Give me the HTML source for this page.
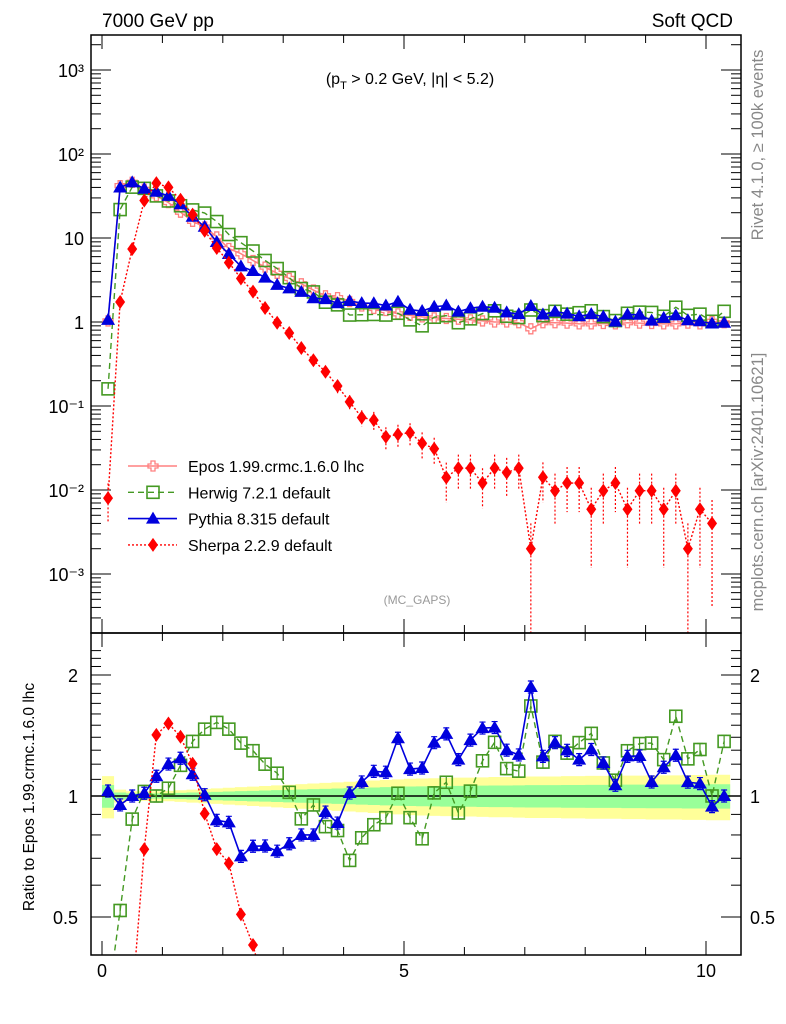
<!DOCTYPE html>
<html><head><meta charset="utf-8"><style>
html,body{margin:0;background:#fff;overflow:hidden;width:786px;height:1024px;}
svg{display:block;font-family:"Liberation Sans",sans-serif;overflow:hidden;}
</style></head><body>
<svg id="chart" width="786" height="1024" viewBox="0 0 786 1024" xmlns="http://www.w3.org/2000/svg">
<defs>
<clipPath id="clipMain"><rect x="91" y="35" width="650" height="598"/></clipPath>
<clipPath id="clipRatio"><rect x="91" y="633" width="650" height="322"/></clipPath>
</defs>
<text x="102" y="27" font-size="19">7000 GeV pp</text>
<text x="733" y="27" font-size="19" text-anchor="end">Soft QCD</text>
<text x="410" y="84" font-size="16" text-anchor="middle">(p<tspan font-size="11" dy="5">T</tspan><tspan dy="-5"> &gt; 0.2 GeV, |η| &lt; 5.2)</tspan></text>
<text x="417" y="604" font-size="12" fill="#999" text-anchor="middle">(MC_GAPS)</text>
<text transform="translate(763,145) rotate(-90)" font-size="16.5" fill="#888" text-anchor="middle">Rivet 4.1.0, ≥ 100k events</text>
<text transform="translate(763,482) rotate(-90)" font-size="16.5" fill="#888" text-anchor="middle">mcplots.cern.ch [arXiv:2401.10621]</text>
<text transform="translate(34,797) rotate(-90)" font-size="15.5" text-anchor="middle">Ratio to Epos 1.99.crmc.1.6.0 lhc</text>
<g id="gBand" clip-path="url(#clipRatio)"></g>
<g id="gAxes"></g>
<g id="gMain" clip-path="url(#clipMain)"></g>
<g id="gRatio" clip-path="url(#clipRatio)"></g>
<g id="gLegend"></g>
<rect x="91" y="35" width="650" height="598" fill="none" stroke="#000" stroke-width="1.5"/>
<rect x="91" y="633" width="650" height="322" fill="none" stroke="#000" stroke-width="1.5"/>
</svg>
<script>
const binCenters = [0.1,0.3,0.5,0.7,0.9,1.1,1.3,1.5,1.7,1.9,2.1,2.3,2.5,2.7,2.9,3.1,3.3,3.5,3.7,3.9,4.1,4.3,4.5,4.7,4.9,5.1,5.3,5.5,5.7,5.9,6.1,6.3,6.5,6.7,6.9,7.1,7.3,7.5,7.7,7.9,8.1,8.3,8.5,8.7,8.9,9.1,9.3,9.5,9.7,9.9,10.1,10.3];
const eposVals = [1.03,42,46,38,31.7,26.4,20.3,15.8,13.5,10.3,7.5,6.5,5.4,4.5,3.8,3.3,2.85,2.4,2.05,1.95,1.75,1.55,1.45,1.37,1.25,1.2,1.15,1.12,1.1,1.08,1.06,1.03,1.0,1.0,0.98,0.83,0.98,0.98,0.97,0.95,0.95,0.96,0.95,0.98,0.97,0.96,0.95,0.95,0.97,0.95,1.02,0.98];
const herwigVals = [0.16,21.8,40.3,39,31.7,27.6,24.2,21.6,19.8,15.7,11,8.8,7.0,5.4,4.33,3.37,2.5,2.28,1.72,1.6,1.21,1.22,1.23,1.21,1.27,1.06,0.90,1.14,1.19,0.98,1.09,1.26,1.36,1.17,1.13,1.39,1.19,1.34,1.24,1.29,1.36,1.16,1.04,1.27,1.31,1.30,1.17,1.50,1.20,1.24,1.02,1.34];
const pythiaVals = [1.06,39.9,46,38.6,35.5,31.7,25.2,17.9,13.6,8.96,6.45,4.6,4.05,3.38,2.77,2.51,2.28,1.92,1.87,1.67,1.78,1.68,1.67,1.57,1.74,1.40,1.35,1.52,1.57,1.33,1.46,1.52,1.48,1.30,1.24,1.55,1.23,1.33,1.26,1.17,1.24,1.16,1.01,1.23,1.22,1.04,1.12,1.20,1.05,1.02,0.96,0.98];
const sherpaVals = [0.008,1.73,7.4,28,45,40,28.5,19,12.2,7.6,5.1,3.3,2.3,1.47,0.98,0.74,0.49,0.35,0.256,0.173,0.112,0.073,0.068,0.043,0.046,0.048,0.036,0.031,0.0141,0.0182,0.0182,0.0121,0.0182,0.0161,0.0182,0.002,0.0142,0.0098,0.0121,0.0121,0.0059,0.0098,0.0121,0.0059,0.0098,0.0098,0.0059,0.0098,0.002,0.0059,0.004,null];
const sherpaRelErr = [0.5,0.05,0.03,0.02,0.02,0.02,0.02,0.03,0.03,0.04,0.05,0.06,0.07,0.08,0.1,0.1,0.12,0.14,0.15,0.18,0.2,0.22,0.25,0.3,0.3,0.3,0.35,0.35,0.5,0.45,0.45,0.5,0.45,0.5,0.45,1.0,0.5,0.6,0.55,0.55,0.8,0.6,0.55,0.8,0.6,0.6,0.8,0.6,1.0,0.8,0.9,0];
const eposRelErr = [0.065,0.02,0.015,0.015,0.015,0.016,0.018,0.02,0.022,0.024,0.026,0.028,0.03,0.032,0.034,0.036,0.038,0.04,0.042,0.044,0.046,0.048,0.05,0.052,0.054,0.056,0.057,0.058,0.059,0.06,0.06,0.061,0.062,0.062,0.063,0.064,0.064,0.064,0.065,0.065,0.066,0.066,0.066,0.067,0.067,0.068,0.068,0.068,0.069,0.069,0.07,0.07];
const mainTickLabels = ["10⁻³","10⁻²","10⁻¹","1","10","10²","10³"];
const mainTickValues = [1e-3,1e-2,1e-1,1,10,100,1000];
const ratioTickValues = [0.5,1,2];
const xTickValues = [0,5,10];

const NS="http://www.w3.org/2000/svg";
const X = v => 102 + 60.4*v;
const Ymain = v => 322 - 84*Math.log10(v);
const Yratio = r => 796 - 121*Math.log2(r);
function mk(parent, tag, attrs){const e=document.createElementNS(NS,tag);for(const k in attrs)e.setAttribute(k,attrs[k]);parent.appendChild(e);return e;}
const gAxes=document.getElementById('gAxes'), gMain=document.getElementById('gMain'), gRatio=document.getElementById('gRatio'), gBand=document.getElementById('gBand'), gLegend=document.getElementById('gLegend');

for(let v=0; v<=10; v++){
  const L = v%5===0 ? 14 : 8;
  for(const [yb,yt] of [[633,35],[955,633]]){
    let t=mk(gAxes,'line',{x1:X(v),x2:X(v),y1:yb,y2:yb-L,stroke:'#000','stroke-width':1});
     
    t=mk(gAxes,'line',{x1:X(v),x2:X(v),y1:yt,y2:yt+L,stroke:'#000','stroke-width':1});
     
  }
}
xTickValues.forEach(v=>{
  const t=mk(gAxes,'text',{x:X(v),y:977,'font-size':18,'text-anchor':'middle'}); t.textContent=String(v);
   
});
for(let d=-4; d<=3; d++){
  for(let m=1;m<=9;m++){
    const v=m*Math.pow(10,d), y=Ymain(v);
    if(y<36||y>632) continue;
    const L = m===1?20:10;
    let t=mk(gAxes,'line',{x1:91,x2:91+L,y1:y,y2:y,stroke:'#000','stroke-width':1});
     
    t=mk(gAxes,'line',{x1:741,x2:741-L,y1:y,y2:y,stroke:'#000','stroke-width':1});
     
  }
}
mainTickValues.forEach((v,i)=>{
  const t=mk(gAxes,'text',{x:84,y:Ymain(v)+7,'font-size':18,'text-anchor':'end'}); t.textContent=mainTickLabels[i];
   
});
for(let k=4;k<=23;k++){
  const r=k/10, y=Yratio(r);
  if(y<634||y>954) continue;
  const L=(k===5||k===10||k===20)?20:10;
  let t=mk(gAxes,'line',{x1:91,x2:91+L,y1:y,y2:y,stroke:'#000','stroke-width':1});
   
  t=mk(gAxes,'line',{x1:741,x2:741-L,y1:y,y2:y,stroke:'#000','stroke-width':1});
   
}
ratioTickValues.forEach(v=>{
  let t=mk(gAxes,'text',{x:78,y:Yratio(v)+7,'font-size':18,'text-anchor':'end'}); t.textContent=String(v);
   
  t=mk(gAxes,'text',{x:750,y:Yratio(v)+7,'font-size':18,'text-anchor':'start'}); t.textContent=String(v);
   
});

function bandPath(f){
  let top='', bot='';
  binCenters.forEach((c,i)=>{
    const x0=X(c-0.1), x1=X(c+0.1), e=eposRelErr[i]*f;
    top += (i?'L':'M')+x0+','+Yratio(1+e)+'L'+x1+','+Yratio(1+e);
  });
  for(let i=binCenters.length-1;i>=0;i--){
    const c=binCenters[i], x0=X(c-0.1), x1=X(c+0.1), e=eposRelErr[i]*f;
    bot += 'L'+x1+','+Yratio(1-e)+'L'+x0+','+Yratio(1-e);
  }
  return top+bot+'Z';
}
let band=mk(gBand,'path',{d:bandPath(1.85),fill:'#ffff99'});
 
band=mk(gBand,'path',{d:bandPath(1),fill:'#99ff99'});
 
let refl=mk(gBand,'line',{x1:91,x2:741,y1:Yratio(1),y2:Yratio(1),stroke:'#000','stroke-width':1.5});
 

function marker(g,type,x,y,color){
  let e;
  if(type==='tri'){ e=mk(g,'path',{d:`M${x},${y-7}L${x+7},${y+5}L${x-7},${y+5}Z`,fill:color}); }
  else if(type==='sq'){ e=mk(g,'rect',{x:x-6,y:y-6,width:12,height:12,fill:'none',stroke:color,'stroke-width':1.6}); }
  else if(type==='dia'){ e=mk(g,'path',{d:`M${x},${y-7}L${x+5},${y}L${x},${y+7}L${x-5},${y}Z`,fill:color}); }
  else { const a=2,b=5; e=mk(g,'path',{d:`M${x-a},${y-b}H${x+a}V${y-a}H${x+b}V${y+a}H${x+a}V${y+b}H${x-a}V${y+a}H${x-b}V${y-a}H${x-a}Z`,fill:'none',stroke:color,'stroke-width':1.3}); }
  return e;
}
const series=[
  {name:'epos',vals:eposVals,color:'#ff8080',dash:'',type:'cross',w:1.5},
  {name:'herwig',vals:herwigVals,color:'#449922',dash:'6,4',type:'sq',w:1.4},
  {name:'pythia',vals:pythiaVals,color:'#0000dd',dash:'',type:'tri',w:1.6},
  {name:'sherpa',vals:sherpaVals,color:'#ff0000',dash:'2,2',type:'dia',w:1.4}
];
series.forEach(s=>{
  let pts=[];
  s.vals.forEach((v,i)=>{ if(v!=null) pts.push([X(binCenters[i]),Ymain(v)]); });
  let ln=mk(gMain,'polyline',{points:pts.map(p=>p.join(',')).join(' '),fill:'none',stroke:s.color,'stroke-width':s.w,'stroke-dasharray':s.dash});
   
  s.vals.forEach((v,i)=>{
    if(v==null) return;
    const x=X(binCenters[i]), y=Ymain(v);
    if(s.name==='sherpa'){
      const e=sherpaRelErr[i]*v, lo=v-e>0?Ymain(v-e):640;
      const eb=mk(gMain,'line',{x1:x,x2:x,y1:Ymain(v+e),y2:Math.min(lo,640),stroke:s.color,'stroke-width':1.2,'stroke-dasharray':'2,2'});
       
    }
    const m=marker(gMain,s.type,x,y,s.color);
     
  });
  if(s.name==='epos') return;
  pts=[];
  s.vals.forEach((v,i)=>{ if(v!=null) pts.push([X(binCenters[i]),Math.min(Yratio(v/eposVals[i]),1000)]); });
  ln=mk(gRatio,'polyline',{points:pts.map(p=>p.join(',')).join(' '),fill:'none',stroke:s.color,'stroke-width':s.w,'stroke-dasharray':s.dash});
   
  s.vals.forEach((v,i)=>{
    if(v==null) return;
    const r=v/eposVals[i], x=X(binCenters[i]), y=Yratio(r);
    if(y>970) return;
    if(s.name!=='sherpa'){
      const eb=mk(gRatio,'path',{d:`M${x},${Yratio(r*1.035)}V${Yratio(r/1.035)}M${x-3},${Yratio(r*1.035)}h6M${x-3},${Yratio(r/1.035)}h6`,stroke:s.color,'stroke-width':1.2,fill:'none'});
       
    }
    const m=marker(gRatio,s.type,x,y,s.color);
     
  });
});
const legendLabels=['Epos 1.99.crmc.1.6.0 lhc','Herwig 7.2.1 default','Pythia 8.315 default','Sherpa 2.2.9 default'];
series.forEach((s,i)=>{
  const y=466+26.3*i;
  const g=mk(gLegend,'g',{});
   
  mk(g,'line',{x1:128,x2:177,y1:y,y2:y,stroke:s.color,'stroke-width':s.w,'stroke-dasharray':s.dash});
  marker(g,s.type,153,y,s.color);
  const t=mk(g,'text',{x:188,y:y+6,'font-size':16}); t.textContent=legendLabels[i];
});
</script>
</body></html>
